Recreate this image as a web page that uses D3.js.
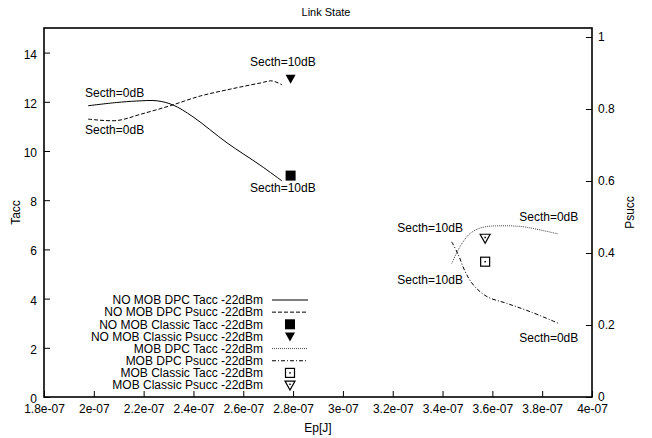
<!DOCTYPE html>
<html>
<head>
<meta charset="utf-8">
<script src="https://cdn.jsdelivr.net/npm/d3@7"></script>
<style>
  html, body { margin: 0; padding: 0; background: #fff; }
  svg { display: block; font-family: "Liberation Sans", Arial, sans-serif; }
</style>
</head>
<body>
<svg id="chart" width="652" height="438"></svg>
<script>
// ---------------- DATA ----------------
const title = "Link State";
const xLabel = "Ep[J]";
const yLabel = "Tacc";
const y2Label = "Psucc";

const xTickLabels = ["1.8e-07","2e-07","2.2e-07","2.4e-07","2.6e-07","2.8e-07","3e-07","3.2e-07","3.4e-07","3.6e-07","3.8e-07","4e-07"];
const yTickLabels = ["0","2","4","6","8","10","12","14"];
const y2TickLabels = ["0","0.2","0.4","0.6","0.8","1"];

// NO MOB DPC Tacc -22dBm (left axis)
const noMobDpcTaccEp   = [1.977e-7, 2.09e-7, 2.17e-7, 2.254e-7, 2.318e-7, 2.398e-7, 2.535e-7, 2.667e-7, 2.756e-7];
const noMobDpcTaccVal  = [11.84, 11.97, 12.03, 12.04, 11.87, 11.39, 10.33, 9.43, 8.78];
// NO MOB DPC Psucc -22dBm (right axis)
const noMobDpcPsuccEp  = [1.977e-7, 2.093e-7, 2.186e-7, 2.306e-7, 2.427e-7, 2.547e-7, 2.667e-7, 2.716e-7, 2.756e-7];
const noMobDpcPsuccVal = [0.772, 0.768, 0.785, 0.809, 0.836, 0.855, 0.872, 0.878, 0.867];
// NO MOB Classic
const noMobClassicTacc  = [{ep: 2.79e-7, v: 9.0}];
const noMobClassicPsucc = [{ep: 2.79e-7, v: 0.884}];
// MOB DPC Tacc -22dBm (left axis)
const mobDpcTaccEp   = [3.437e-7, 3.47e-7, 3.511e-7, 3.563e-7, 3.631e-7, 3.724e-7, 3.792e-7, 3.864e-7];
const mobDpcTaccVal  = [5.43, 6.11, 6.65, 6.9, 6.96, 6.92, 6.79, 6.63];
// MOB DPC Psucc -22dBm (right axis)
const mobDpcPsuccEp  = [3.437e-7, 3.464e-7, 3.491e-7, 3.524e-7, 3.578e-7, 3.658e-7, 3.752e-7, 3.864e-7];
const mobDpcPsuccVal = [0.431, 0.394, 0.348, 0.311, 0.279, 0.26, 0.237, 0.205];
// MOB Classic
const mobClassicTacc  = [{ep: 3.571e-7, v: 5.5}];
const mobClassicPsucc = [{ep: 3.571e-7, v: 0.441}];

// Annotations (Ep, Tacc-axis value)
const annotations = [
  {text: "Secth=0dB",  ep: 1.965e-7, v: 12.36},
  {text: "Secth=0dB",  ep: 1.965e-7, v: 10.85},
  {text: "Secth=10dB", ep: 2.627e-7, v: 13.62},
  {text: "Secth=10dB", ep: 2.627e-7, v: 8.5},
  {text: "Secth=10dB", ep: 3.218e-7, v: 6.87},
  {text: "Secth=0dB",  ep: 3.708e-7, v: 7.32},
  {text: "Secth=10dB", ep: 3.218e-7, v: 4.76},
  {text: "Secth=0dB",  ep: 3.708e-7, v: 2.4}
];

const legendLabels = [
  "NO MOB DPC Tacc -22dBm",
  "NO MOB DPC Psucc -22dBm",
  "NO MOB Classic Tacc -22dBm",
  "NO MOB Classic Psucc -22dBm",
  "MOB DPC Tacc -22dBm",
  "MOB DPC Psucc -22dBm",
  "MOB Classic Tacc -22dBm",
  "MOB Classic Psucc -22dBm"
];

// ---------------- LAYOUT ----------------
const L = 44, R = 592, T = 28, B = 397;
const svg = d3.select("#chart");
const fs = 12;

const x  = d3.scaleLinear().domain([1.8e-7, 4e-7]).range([L, R]);
const y  = d3.scaleLinear().domain([0, 15]).range([B, T]);
const y2 = d3.scaleLinear().domain([0, 1.025]).range([B, T]);

// Axes
const xTickVals = xTickLabels.map(Number);
const gx = svg.append("g").attr("transform", `translate(0,${B})`)
  .call(d3.axisBottom(x).tickValues(xTickVals).tickFormat((d,i) => xTickLabels[i])
        .tickSizeInner(-6).tickSizeOuter(0).tickPadding(7));
const gy = svg.append("g").attr("transform", `translate(${L},0)`)
  .call(d3.axisLeft(y).tickValues(yTickLabels.map(Number)).tickFormat((d,i) => yTickLabels[i])
        .tickSizeInner(-6).tickSizeOuter(0).tickPadding(7));
const gy2 = svg.append("g").attr("transform", `translate(${R},0)`)
  .call(d3.axisRight(y2).tickValues(y2TickLabels.map(Number)).tickFormat((d,i) => y2TickLabels[i])
        .tickSizeInner(-6).tickSizeOuter(0).tickPadding(6));
[gx, gy, gy2].forEach(g => {
  g.select(".domain").remove();
  g.selectAll("text").attr("font-size", fs).attr("font-family", "Liberation Sans, Arial, sans-serif").attr("fill", "#000");
  g.selectAll("line").attr("stroke", "#000").attr("stroke-width", 1);
});
gy.selectAll(".tick text").attr("dy", "0.45em");
gy2.selectAll(".tick text").attr("dy", "0.25em");
gx.selectAll(".tick text").attr("dy", "0.78em");

// Frame
svg.append("rect").attr("x", L).attr("y", T).attr("width", R - L).attr("height", B - T)
  .attr("fill", "none").attr("stroke", "#000").attr("stroke-width", 1.6);

// Titles
svg.append("text").attr("x", 326).attr("y", 16).attr("text-anchor", "middle")
  .attr("font-size", 11).text(title);
svg.append("text").attr("x", (L + R) / 2).attr("y", 432).attr("text-anchor", "middle")
  .attr("font-size", fs).text(xLabel);
svg.append("text").attr("transform", `translate(20,${(T + B) / 2}) rotate(-90)`).attr("text-anchor", "middle")
  .attr("font-size", fs).text(yLabel);
svg.append("text").attr("transform", `translate(634,${(T + B) / 2}) rotate(-90)`).attr("text-anchor", "middle")
  .attr("font-size", fs).text(y2Label);

// Lines
const styles = {
  solid:   {dash: null,      color: "#000", w: 1},
  dashed:  {dash: "4,2",     color: "#000", w: 1},
  dotted:  {dash: "1,1",     color: "#444", w: 1},
  dashdot: {dash: "4,2,1,2", color: "#000", w: 1}
};
function drawLine(eps, vals, scaleY, st) {
  const pts = eps.map((e, i) => [x(e), scaleY(vals[i])]);
  svg.append("path").attr("d", d3.line().curve(d3.curveCatmullRom.alpha(0.5))(pts))
    .attr("fill", "none").attr("stroke", st.color).attr("stroke-width", st.w)
    .attr("stroke-dasharray", st.dash);
}
drawLine(noMobDpcTaccEp, noMobDpcTaccVal, y, styles.solid);
drawLine(noMobDpcPsuccEp, noMobDpcPsuccVal, y2, styles.dashed);
drawLine(mobDpcTaccEp, mobDpcTaccVal, y, styles.dotted);
drawLine(mobDpcPsuccEp, mobDpcPsuccVal, y2, styles.dashdot);

// Markers
function markerFilledSquare(g, cx, cy) {
  g.append("rect").attr("x", cx - 5).attr("y", cy - 5).attr("width", 10).attr("height", 10).attr("fill", "#000");
}
function markerFilledTri(g, cx, cy) {
  g.append("path").attr("d", `M${cx-5},${cy-4}L${cx+5},${cy-4}L${cx},${cy+5}Z`).attr("fill", "#000");
}
function markerOpenSquare(g, cx, cy) {
  g.append("rect").attr("x", cx - 4.5).attr("y", cy - 4.5).attr("width", 9).attr("height", 9)
    .attr("fill", "none").attr("stroke", "#000").attr("stroke-width", 1.2);
  g.append("rect").attr("x", cx - 0.75).attr("y", cy - 0.75).attr("width", 1.5).attr("height", 1.5).attr("fill", "#000");
}
function markerOpenTri(g, cx, cy) {
  g.append("path").attr("d", `M${cx-5},${cy-4}L${cx+5},${cy-4}L${cx},${cy+5}Z`)
    .attr("fill", "none").attr("stroke", "#000").attr("stroke-width", 1.2);
  g.append("rect").attr("x", cx - 0.75).attr("y", cy - 1.5).attr("width", 1.5).attr("height", 1.5).attr("fill", "#000");
}
const mg = svg.append("g");
noMobClassicTacc.forEach(d => markerFilledSquare(mg, x(d.ep), y(d.v)));
noMobClassicPsucc.forEach(d => markerFilledTri(mg, x(d.ep), y2(d.v)));
mobClassicTacc.forEach(d => markerOpenSquare(mg, x(d.ep), y(d.v)));
mobClassicPsucc.forEach(d => markerOpenTri(mg, x(d.ep), y2(d.v)));

// Annotations
svg.append("g").selectAll("text").data(annotations).join("text")
  .attr("x", d => x(d.ep)).attr("y", d => y(d.v)).attr("dy", "0.35em")
  .attr("font-size", fs).text(d => d.text);

// Legend
const lg = svg.append("g");
const legTextX = 263, sx0 = 272, sx1 = 308, scx = 290;
const rowY = i => 300 + i * 12.15;
legendLabels.forEach((lab, i) => {
  lg.append("text").attr("x", legTextX).attr("y", rowY(i)).attr("dy", "0.35em")
    .attr("text-anchor", "end").attr("font-size", fs).text(lab);
});
const legLine = (i, st) => lg.append("line").attr("x1", sx0).attr("x2", sx1).attr("y1", rowY(i)).attr("y2", rowY(i))
  .attr("stroke", st.color).attr("stroke-width", st.w).attr("stroke-dasharray", st.dash);
legLine(0, styles.solid);
legLine(1, styles.dashed);
markerFilledSquare(lg, scx, rowY(2));
markerFilledTri(lg, scx, rowY(3));
legLine(4, styles.dotted);
legLine(5, styles.dashdot);
markerOpenSquare(lg, scx, rowY(6));
markerOpenTri(lg, scx, rowY(7));
</script>
</body>
</html>
